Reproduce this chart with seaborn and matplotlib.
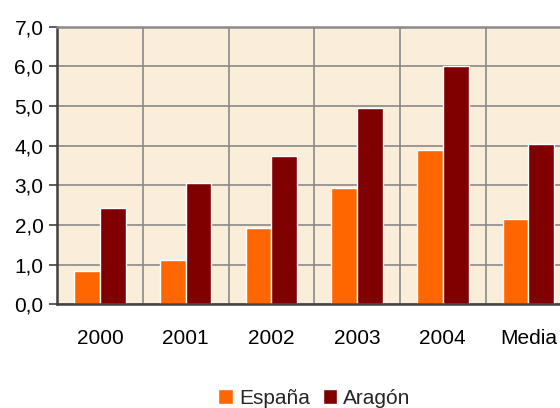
import pandas as pd
import matplotlib
matplotlib.use("Agg")
import matplotlib.pyplot as plt
from matplotlib.ticker import FuncFormatter, FixedLocator
import seaborn as sns

categories = ["2000", "2001", "2002", "2003", "2004", "Media"]
espana = [0.84, 1.12, 1.92, 2.93, 3.89, 2.15]
aragon = [2.43, 3.06, 3.74, 4.95, 6.01, 4.04]
series = ["España", "Aragón"]
colors = ["#FF6600", "#800000"]

df = pd.DataFrame({
    "cat": categories * 2,
    "valor": espana + aragon,
    "serie": [series[0]] * len(categories) + [series[1]] * len(categories),
})

sns.set_theme(style="white")
plt.rcParams["font.family"] = ["Liberation Sans", "DejaVu Sans"]

W, H = 560, 408
fig = plt.figure(figsize=(W / 100, H / 100), dpi=100)
ax = fig.add_axes([57.3 / W, (H - 304.3) / H, (571.3 - 57.3) / W, (304.3 - 26.7) / H])
ax.set_facecolor("#FAEEDA")

sns.barplot(data=df, x="cat", y="valor", hue="serie", palette=colors,
            saturation=1, width=0.6, edgecolor="white", linewidth=1,
            ax=ax, zorder=3)

ax.set_xlim(-0.5, 5.5)
ax.set_ylim(0, 7)
ax.set_yticks(range(0, 8))
ax.yaxis.set_major_formatter(FuncFormatter(lambda v, p: f"{v:.1f}".replace(".", ",")))
ax.xaxis.set_minor_locator(FixedLocator([0.5, 1.5, 2.5, 3.5, 4.5]))
ax.grid(axis="y", which="major", color="#8a8a8a", linewidth=1.2, zorder=0)
ax.grid(axis="x", which="minor", color="#8a8a8a", linewidth=1.2, zorder=0)
ax.set_axisbelow(True)

ax.set_xlabel("")
ax.set_ylabel("")
ax.tick_params(axis="y", which="major", left=True, length=6, width=1.2,
               color="#404040", labelsize=15, labelcolor="black", pad=4)
ax.tick_params(axis="x", which="both", bottom=False, labelsize=15,
               labelcolor="black", pad=12)

for side in ["left", "bottom"]:
    ax.spines[side].set_color("#404040")
    ax.spines[side].set_linewidth(1.8)
ax.spines["top"].set_color("#8a8a8a")
ax.spines["top"].set_linewidth(1.8)
ax.spines["right"].set_visible(False)
for sp in ax.spines.values():
    sp.set_zorder(5)

handles, labels = ax.get_legend_handles_labels()
ax.get_legend().remove()
fig.legend(handles, labels, loc="center", ncol=2, frameon=False,
           bbox_to_anchor=(314.5 / W, 1 - 398 / H), fontsize=15,
           handlelength=0.7, handleheight=0.7, handletextpad=0.3,
           columnspacing=0.6)

fig.savefig("out.png", dpi=100)
